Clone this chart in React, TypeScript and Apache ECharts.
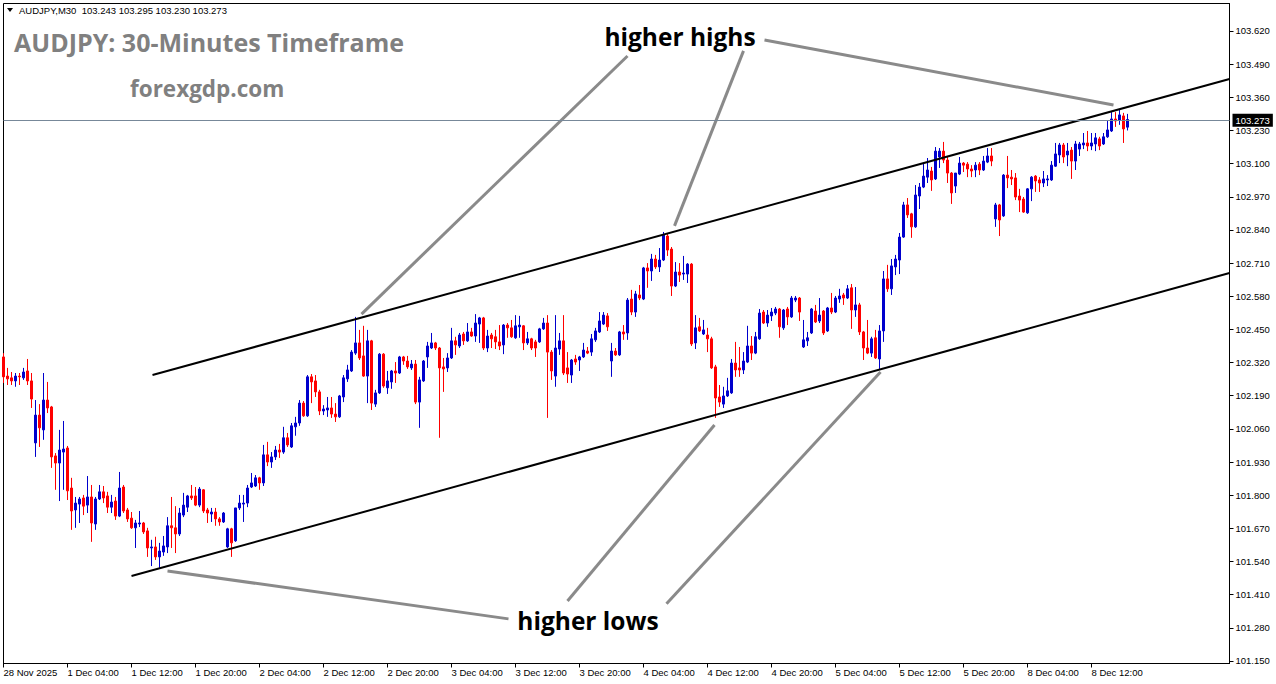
import React, { useEffect, useRef } from 'react';
import * as echarts from 'echarts';

const SYMBOL = 'AUDJPY';
const TIMEFRAME = 'M30';

const OPEN = [
  102.342, 102.267, 102.260, 102.248, 102.267, 102.260, 102.287, 102.248, 102.005, 102.114,
  102.056, 102.173, 102.146, 101.954, 101.926, 101.969, 101.985, 101.828, 101.742, 101.765,
  101.789, 101.761, 101.793, 101.687, 101.785, 101.813, 101.797, 101.753, 101.777, 101.718,
  101.832, 101.742, 101.710, 101.672, 101.687, 101.691, 101.660, 101.593, 101.597, 101.558,
  101.577, 101.597, 101.680, 101.672, 101.648, 101.722, 101.753, 101.797, 101.797, 101.761,
  101.821, 101.742, 101.726, 101.734, 101.707, 101.695, 101.597, 101.668, 101.621, 101.750,
  101.765, 101.769, 101.832, 101.836, 101.868, 101.848, 101.958, 101.930, 101.950, 101.977,
  101.969, 102.025, 101.989, 102.068, 102.083, 102.161, 102.111, 102.264, 102.248, 102.205,
  102.130, 102.134, 102.142, 102.118, 102.107, 102.185, 102.256, 102.287, 102.357, 102.397,
  102.346, 102.267, 102.405, 102.157, 102.201, 102.353, 102.221, 102.244, 102.287, 102.279,
  102.342, 102.326, 102.299, 102.314, 102.165, 102.248, 102.342, 102.377, 102.397, 102.377,
  102.303, 102.299, 102.338, 102.405, 102.385, 102.432, 102.405, 102.440, 102.424, 102.471,
  102.495, 102.377, 102.428, 102.421, 102.401, 102.389, 102.467, 102.456, 102.417, 102.460,
  102.464, 102.397, 102.413, 102.401, 102.401, 102.452, 102.475, 102.361, 102.267, 102.373,
  102.405, 102.299, 102.271, 102.334, 102.330, 102.342, 102.365, 102.361, 102.409, 102.440,
  102.471, 102.503, 102.326, 102.365, 102.350, 102.440, 102.436, 102.569, 102.518, 102.585,
  102.569, 102.691, 102.679, 102.726, 102.695, 102.722, 102.816, 102.765, 102.620, 102.675,
  102.667, 102.667, 102.706, 102.397, 102.460, 102.432, 102.428, 102.413, 102.303, 102.185,
  102.157, 102.189, 102.201, 102.318, 102.299, 102.291, 102.322, 102.385, 102.357, 102.413,
  102.518, 102.475, 102.503, 102.514, 102.530, 102.456, 102.530, 102.499, 102.565, 102.573,
  102.381, 102.405, 102.436, 102.522, 102.483, 102.522, 102.444, 102.534, 102.518, 102.569,
  102.585, 102.573, 102.613, 102.526, 102.546, 102.440, 102.377, 102.357, 102.417, 102.334,
  102.444, 102.648, 102.609, 102.695, 102.722, 102.812, 102.938, 102.903, 102.852, 102.973,
  103.008, 103.047, 103.071, 103.040, 103.126, 103.149, 103.114, 103.063, 103.012, 103.059,
  103.102, 103.098, 103.079, 103.075, 103.098, 103.075, 103.106, 103.130, 102.883, 102.938,
  102.895, 103.055, 103.047, 103.044, 102.973, 102.961, 102.907, 103.001, 103.051, 103.036,
  103.024, 103.036, 103.036, 103.090, 103.134, 103.173, 103.134, 103.153, 103.110, 103.157,
  103.173, 103.181, 103.169, 103.177, 103.197, 103.177, 103.205, 103.228, 103.275, 103.271,
  103.287, 103.243,
];

const HIGH = [
  102.357, 102.299, 102.283, 102.279, 102.279, 102.299, 102.334, 102.279, 102.173, 102.157,
  102.279, 102.244, 102.150, 101.965, 102.056, 102.091, 101.993, 101.868, 101.793, 101.793,
  101.801, 101.875, 101.840, 101.793, 101.840, 101.836, 101.813, 101.801, 101.793, 101.891,
  101.840, 101.750, 101.734, 101.703, 101.738, 101.695, 101.672, 101.625, 101.637, 101.613,
  101.640, 101.714, 101.793, 101.757, 101.750, 101.809, 101.801, 101.840, 101.832, 101.832,
  101.824, 101.750, 101.750, 101.750, 101.714, 101.734, 101.672, 101.672, 101.750, 101.801,
  101.801, 101.840, 101.887, 101.879, 101.872, 101.997, 102.009, 101.969, 101.993, 102.001,
  102.068, 102.044, 102.083, 102.107, 102.173, 102.169, 102.271, 102.275, 102.271, 102.213,
  102.153, 102.185, 102.185, 102.161, 102.193, 102.271, 102.311, 102.369, 102.499, 102.448,
  102.464, 102.448, 102.409, 102.213, 102.357, 102.357, 102.287, 102.291, 102.322, 102.346,
  102.346, 102.346, 102.330, 102.330, 102.264, 102.330, 102.401, 102.436, 102.401, 102.381,
  102.338, 102.357, 102.456, 102.421, 102.436, 102.440, 102.475, 102.456, 102.510, 102.499,
  102.499, 102.448, 102.436, 102.448, 102.467, 102.471, 102.475, 102.487, 102.506, 102.503,
  102.467, 102.440, 102.417, 102.409, 102.456, 102.495, 102.506, 102.369, 102.506, 102.436,
  102.506, 102.361, 102.334, 102.350, 102.346, 102.397, 102.381, 102.432, 102.456, 102.518,
  102.518, 102.514, 102.397, 102.377, 102.444, 102.467, 102.573, 102.605, 102.601, 102.624,
  102.695, 102.710, 102.746, 102.742, 102.769, 102.832, 102.828, 102.773, 102.714, 102.710,
  102.738, 102.710, 102.710, 102.506, 102.495, 102.487, 102.456, 102.421, 102.311, 102.232,
  102.225, 102.260, 102.334, 102.401, 102.381, 102.361, 102.464, 102.424, 102.440, 102.530,
  102.526, 102.526, 102.534, 102.538, 102.534, 102.530, 102.538, 102.581, 102.581, 102.577,
  102.487, 102.440, 102.534, 102.546, 102.573, 102.526, 102.538, 102.593, 102.581, 102.609,
  102.593, 102.624, 102.628, 102.616, 102.554, 102.444, 102.487, 102.421, 102.448, 102.467,
  102.679, 102.703, 102.726, 102.742, 102.828, 102.950, 102.965, 102.907, 103.016, 103.024,
  103.102, 103.122, 103.087, 103.165, 103.161, 103.185, 103.126, 103.067, 103.063, 103.126,
  103.106, 103.106, 103.094, 103.106, 103.106, 103.130, 103.161, 103.161, 102.946, 102.942,
  103.059, 103.130, 103.075, 103.063, 103.001, 102.969, 103.004, 103.051, 103.055, 103.047,
  103.071, 103.055, 103.110, 103.181, 103.181, 103.181, 103.181, 103.165, 103.189, 103.185,
  103.220, 103.228, 103.220, 103.220, 103.205, 103.220, 103.271, 103.302, 103.302, 103.310,
  103.299, 103.295,
];

const LOW = [
  102.240, 102.232, 102.232, 102.225, 102.232, 102.252, 102.232, 102.142, 101.950, 101.989,
  102.017, 102.122, 101.907, 101.821, 101.777, 101.821, 101.781, 101.664, 101.672, 101.691,
  101.722, 101.730, 101.617, 101.664, 101.781, 101.769, 101.730, 101.730, 101.703, 101.714,
  101.730, 101.695, 101.668, 101.593, 101.675, 101.648, 101.558, 101.522, 101.546, 101.515,
  101.562, 101.573, 101.593, 101.573, 101.640, 101.714, 101.734, 101.781, 101.757, 101.753,
  101.730, 101.691, 101.695, 101.680, 101.680, 101.691, 101.593, 101.558, 101.617, 101.742,
  101.695, 101.753, 101.828, 101.832, 101.821, 101.836, 101.914, 101.907, 101.938, 101.946,
  101.962, 101.989, 101.985, 102.033, 102.072, 102.107, 102.107, 102.161, 102.185, 102.114,
  102.114, 102.107, 102.103, 102.087, 102.103, 102.165, 102.244, 102.283, 102.350, 102.330,
  102.264, 102.161, 102.134, 102.146, 102.197, 102.221, 102.197, 102.217, 102.240, 102.275,
  102.311, 102.295, 102.291, 102.157, 102.064, 102.244, 102.299, 102.373, 102.369, 102.025,
  102.205, 102.283, 102.334, 102.350, 102.377, 102.389, 102.401, 102.421, 102.401, 102.397,
  102.369, 102.361, 102.377, 102.373, 102.369, 102.353, 102.417, 102.417, 102.413, 102.417,
  102.369, 102.389, 102.369, 102.342, 102.397, 102.448, 102.103, 102.252, 102.225, 102.350,
  102.271, 102.240, 102.240, 102.311, 102.287, 102.338, 102.353, 102.346, 102.401, 102.436,
  102.467, 102.444, 102.264, 102.346, 102.346, 102.409, 102.409, 102.506, 102.499, 102.565,
  102.565, 102.613, 102.640, 102.687, 102.675, 102.718, 102.738, 102.581, 102.616, 102.636,
  102.644, 102.632, 102.385, 102.373, 102.440, 102.428, 102.361, 102.295, 102.103, 102.146,
  102.142, 102.185, 102.197, 102.264, 102.264, 102.275, 102.318, 102.330, 102.353, 102.409,
  102.471, 102.460, 102.483, 102.506, 102.417, 102.448, 102.467, 102.495, 102.557, 102.483,
  102.377, 102.385, 102.432, 102.475, 102.475, 102.428, 102.440, 102.510, 102.514, 102.554,
  102.546, 102.569, 102.452, 102.499, 102.428, 102.330, 102.353, 102.342, 102.334, 102.295,
  102.401, 102.597, 102.585, 102.663, 102.667, 102.809, 102.887, 102.809, 102.848, 102.922,
  103.004, 103.024, 102.993, 103.036, 103.083, 103.102, 103.024, 102.942, 102.985, 103.055,
  103.067, 103.047, 103.047, 103.047, 103.055, 103.071, 103.102, 103.090, 102.852, 102.816,
  102.891, 103.004, 103.016, 102.957, 102.910, 102.907, 102.903, 102.953, 102.989, 102.989,
  103.008, 103.012, 103.032, 103.087, 103.102, 103.102, 103.090, 103.040, 103.075, 103.130,
  103.157, 103.149, 103.153, 103.149, 103.153, 103.173, 103.201, 103.224, 103.244, 103.252,
  103.181, 103.230,
];

const CLOSE = [
  102.264, 102.256, 102.248, 102.267, 102.264, 102.283, 102.248, 102.177, 102.114, 102.064,
  102.173, 102.142, 101.950, 101.926, 101.977, 101.981, 101.817, 101.738, 101.769, 101.785,
  101.757, 101.793, 101.691, 101.785, 101.813, 101.789, 101.753, 101.773, 101.718, 101.828,
  101.738, 101.707, 101.672, 101.691, 101.691, 101.656, 101.593, 101.597, 101.558, 101.581,
  101.601, 101.680, 101.672, 101.648, 101.730, 101.761, 101.797, 101.789, 101.761, 101.824,
  101.738, 101.730, 101.734, 101.707, 101.695, 101.730, 101.668, 101.613, 101.750, 101.769,
  101.769, 101.828, 101.848, 101.868, 101.848, 101.958, 101.930, 101.950, 101.977, 101.969,
  102.025, 101.997, 102.072, 102.083, 102.161, 102.111, 102.264, 102.244, 102.205, 102.130,
  102.138, 102.142, 102.118, 102.107, 102.189, 102.260, 102.291, 102.361, 102.397, 102.338,
  102.267, 102.405, 102.161, 102.201, 102.353, 102.228, 102.248, 102.287, 102.279, 102.342,
  102.326, 102.303, 102.314, 102.165, 102.252, 102.326, 102.385, 102.397, 102.377, 102.299,
  102.295, 102.338, 102.405, 102.389, 102.428, 102.405, 102.440, 102.424, 102.475, 102.495,
  102.377, 102.424, 102.413, 102.401, 102.385, 102.467, 102.456, 102.421, 102.464, 102.467,
  102.397, 102.413, 102.377, 102.377, 102.452, 102.475, 102.361, 102.287, 102.377, 102.405,
  102.279, 102.275, 102.330, 102.322, 102.342, 102.369, 102.357, 102.413, 102.444, 102.483,
  102.506, 102.460, 102.365, 102.350, 102.440, 102.432, 102.565, 102.518, 102.589, 102.573,
  102.691, 102.679, 102.726, 102.695, 102.722, 102.820, 102.761, 102.620, 102.675, 102.663,
  102.671, 102.706, 102.393, 102.456, 102.444, 102.448, 102.413, 102.299, 102.181, 102.165,
  102.189, 102.209, 102.318, 102.291, 102.291, 102.326, 102.385, 102.357, 102.421, 102.514,
  102.475, 102.506, 102.518, 102.530, 102.460, 102.526, 102.499, 102.573, 102.573, 102.518,
  102.409, 102.417, 102.530, 102.479, 102.506, 102.436, 102.534, 102.518, 102.573, 102.581,
  102.573, 102.609, 102.526, 102.546, 102.440, 102.377, 102.357, 102.413, 102.338, 102.444,
  102.648, 102.609, 102.699, 102.726, 102.812, 102.938, 102.899, 102.852, 102.977, 103.008,
  103.051, 103.075, 103.036, 103.149, 103.149, 103.114, 103.063, 102.985, 103.063, 103.102,
  103.094, 103.079, 103.071, 103.094, 103.075, 103.110, 103.130, 103.110, 102.938, 102.879,
  103.055, 103.044, 103.040, 102.969, 102.957, 102.910, 103.001, 103.047, 103.032, 103.024,
  103.040, 103.040, 103.094, 103.138, 103.173, 103.126, 103.149, 103.110, 103.177, 103.177,
  103.181, 103.169, 103.181, 103.201, 103.169, 103.205, 103.232, 103.275, 103.267, 103.291,
  103.236, 103.273,
];

const X_TICK_LABELS = [
  '28 Nov 2025', '1 Dec 04:00', '1 Dec 12:00', '1 Dec 20:00', '2 Dec 04:00', '2 Dec 12:00',
  '2 Dec 20:00', '3 Dec 04:00', '3 Dec 12:00', '3 Dec 20:00', '4 Dec 04:00', '4 Dec 12:00',
  '4 Dec 20:00', '5 Dec 04:00', '5 Dec 12:00', '5 Dec 20:00', '8 Dec 04:00', '8 Dec 12:00',
];
const CANDLES_PER_X_TICK = 16;

const Y_TICKS = [
  101.15, 101.28, 101.41, 101.54, 101.67, 101.8, 101.93, 102.06, 102.19, 102.32,
  102.45, 102.58, 102.71, 102.84, 102.97, 103.1, 103.23, 103.36, 103.49, 103.62,
];

// Trend channel and annotation arrows, as [candle index, price] end points
const CHANNEL_UPPER = [[37.25, 102.271], [306.5, 103.432]];
const CHANNEL_LOWER = [[32, 101.483], [306.5, 102.671]];
const HIGHER_HIGH_ARROWS = [
  [[156, 103.522], [89.5, 102.51]],
  [[185, 103.542], [167.75, 102.856]],
  [[190.25, 103.585], [277.5, 103.33]],
];
const HIGHER_LOW_ARROWS = [
  [[126.25, 101.315], [41, 101.503]],
  [[141, 101.385], [177.75, 102.075]],
  [[165.75, 101.374], [219.25, 102.283]],
];

const X_MIN = 0;
const X_MAX = 306.5;
const Y_MIN = 101.140;
const Y_MAX = 103.7278;

const BULL = '#0000CD';
const BEAR = '#FF0000';
const AXIS_FONT = '"Liberation Sans", Arial, sans-serif';
const TITLE_FONT = '"Open Sans", Lato, sans-serif';

export default function App() {
  const ref = useRef<HTMLDivElement>(null);

  useEffect(() => {
    if (!ref.current) return;
    const chart = echarts.init(ref.current, undefined, { renderer: 'svg' });
    const last = OPEN.length - 1;
    const xTickValues = X_TICK_LABELS.map((_, k) => k * CANDLES_PER_X_TICK);
    const header = `${SYMBOL},${TIMEFRAME}  ${OPEN[last].toFixed(3)} ${HIGH[last].toFixed(3)} ${LOW[last].toFixed(3)} ${CLOSE[last].toFixed(3)}`;
    const lastCloseText = CLOSE[last].toFixed(3);

    chart.setOption({
      animation: false,
      backgroundColor: '#ffffff',
      grid: {
        left: 3.5,
        top: 3.5,
        width: 1226,
        height: 660,
        show: true,
        borderColor: '#000000',
        borderWidth: 1,
        backgroundColor: '#ffffff',
        containLabel: false,
        outerBoundsMode: 'none',
      },
      xAxis: {
        type: 'value',
        min: X_MIN,
        max: X_MAX,
        position: 'bottom',
        axisLine: { show: true, onZero: false, lineStyle: { color: '#000', width: 1 } },
        axisTick: { show: true, length: 4, customValues: xTickValues, lineStyle: { color: '#000' } },
        axisLabel: {
          customValues: xTickValues,
          formatter: (v: number) => X_TICK_LABELS[Math.round(v / CANDLES_PER_X_TICK)] ?? '',
          align: 'left',
          margin: 4,
          color: '#000',
          fontSize: 9.5,
          fontFamily: AXIS_FONT,
        },
        splitLine: { show: false },
      },
      yAxis: {
        type: 'value',
        position: 'right',
        min: Y_MIN,
        max: Y_MAX,
        axisLine: { show: true, onZero: false, lineStyle: { color: '#000', width: 1 } },
        axisTick: { show: true, length: 4, customValues: Y_TICKS, lineStyle: { color: '#000' } },
        axisLabel: {
          customValues: Y_TICKS,
          formatter: (v: number) => v.toFixed(3),
          margin: 6,
          color: '#000',
          fontSize: 9.5,
          fontFamily: AXIS_FONT,
        },
        splitLine: { show: false },
      },
      series: [
        {
          type: 'candlestick',
          data: OPEN.map((o, i) => [i, o, CLOSE[i], LOW[i], HIGH[i]]),
          encode: { x: 0, y: [1, 2, 3, 4] },
          barWidth: 2,
          clip: true,
          silent: true,
          itemStyle: {
            color: BULL,
            color0: BEAR,
            borderColor: BULL,
            borderColor0: BEAR,
            borderWidth: 1,
          },
          markLine: {
            silent: true,
            symbol: ['none', 'none'],
            lineStyle: { color: '#778899', width: 1, type: 'solid' },
            label: {
              position: 'end',
              formatter: () => lastCloseText,
              color: '#ffffff',
              backgroundColor: '#000000',
              padding: [2, 3, 1, 3],
              fontSize: 9.5,
              fontFamily: AXIS_FONT,
              distance: 3,
            },
            data: [{ yAxis: CLOSE[last] }],
          },
          z: 3,
        },
        {
          type: 'lines',
          coordinateSystem: 'cartesian2d',
          silent: true,
          polyline: false,
          lineStyle: { color: '#000000', width: 2, opacity: 1, curveness: 0 },
          data: [{ coords: CHANNEL_UPPER }, { coords: CHANNEL_LOWER }],
          z: 4,
        },
        {
          type: 'lines',
          coordinateSystem: 'cartesian2d',
          silent: true,
          polyline: false,
          lineStyle: { color: '#8a8a8a', width: 3, opacity: 1, curveness: 0 },
          data: [...HIGHER_HIGH_ARROWS, ...HIGHER_LOW_ARROWS].map((c) => ({ coords: c })),
          z: 4,
        },
      ],
      graphic: [
        {
          type: 'polygon',
          shape: { points: [[7, 8], [13, 8], [10, 12]] },
          style: { fill: '#000' },
          z: 10,
        },
        {
          type: 'text',
          x: 19,
          y: 10,
          style: { text: header, font: `9.5px ${AXIS_FONT}`, fill: '#000', align: 'left', verticalAlign: 'middle' },
          z: 10,
        },
        {
          type: 'text',
          x: 14,
          y: 42,
          style: { text: 'AUDJPY: 30-Minutes Timeframe', font: `bold 25px ${TITLE_FONT}`, fill: '#808080', align: 'left', verticalAlign: 'middle' },
          z: 10,
        },
        {
          type: 'text',
          x: 130,
          y: 88,
          style: { text: 'forexgdp.com', font: `bold 22.5px ${TITLE_FONT}`, fill: '#808080', align: 'left', verticalAlign: 'middle' },
          z: 10,
        },
        {
          type: 'text',
          x: 680,
          y: 36,
          style: { text: 'higher highs', font: `bold 24.5px ${TITLE_FONT}`, fill: '#000', align: 'center', verticalAlign: 'middle' },
          z: 10,
        },
        {
          type: 'text',
          x: 588,
          y: 620,
          style: { text: 'higher lows', font: `bold 24.5px ${TITLE_FONT}`, fill: '#000', align: 'center', verticalAlign: 'middle' },
          z: 10,
        },
      ],
    });

    return () => chart.dispose();
  }, []);

  return (
    <div
      ref={ref}
      style={{ position: 'fixed', left: 0, top: 0, width: 1276, height: 684, background: '#fff' }}
    />
  );
}
